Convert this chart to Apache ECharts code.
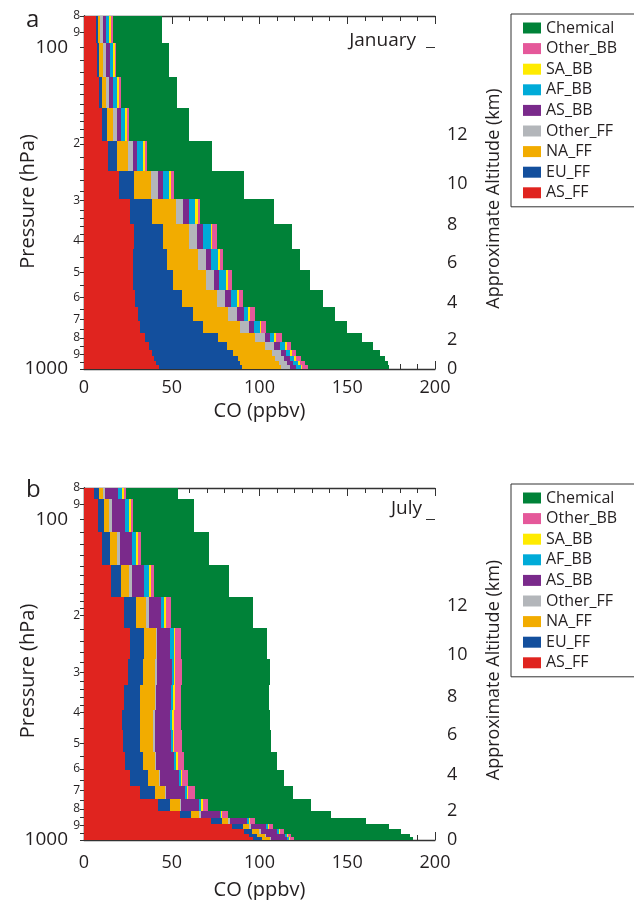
<!DOCTYPE html>
<html>
<head>
<meta charset="utf-8">
<script src="https://cdn.jsdelivr.net/npm/echarts@6/dist/echarts.min.js"></script>
<style>
  html, body { margin: 0; padding: 0; background: #fff; }
  #chart { width: 634px; height: 900px; }
</style>
</head>
<body>
<div id="chart"></div>
<script>
// source names, bottom of the stack first
var sources = ['AS_FF', 'EU_FF', 'NA_FF', 'Other_FF', 'AS_BB', 'AF_BB', 'SA_BB', 'Other_BB', 'Chemical'];
var colors = ['#e0241f', '#134f9d', '#f2ac00', '#b3b6ba', '#7a2a8b', '#00abd8', '#ffeb00', '#e5589a', '#008238'];

// January: layer edges (hPa) and contribution of each source per layer (ppbv), top layer first
var janEdges = [80, 97, 124, 155, 196, 243, 296, 354, 424, 493, 568, 642, 709, 773, 824, 873, 911, 944, 972, 1000];
var janAS_FF = [7.1, 7.6, 8.7, 10.1, 13.5, 20.0, 26.3, 28.6, 28.2, 28.2, 29.1, 30.7, 32.0, 34.9, 37.1, 38.7, 40.0, 41.1, 42.9];
var janEU_FF = [0.9, 1.1, 1.4, 3.0, 5.5, 8.6, 12.7, 16.2, 19.1, 22.3, 26.7, 31.4, 35.8, 41.3, 44.4, 46.3, 47.6, 47.6, 47.4];
var janNA_FF = [1.1, 2.1, 2.5, 3.6, 6.3, 9.7, 13.4, 15.3, 17.7, 19.1, 20.0, 20.0, 20.9, 21.0, 21.9, 21.9, 21.5, 22.3, 21.7];
var janOther_FF = [1.5, 1.7, 1.9, 2.3, 2.5, 3.8, 4.2, 4.4, 4.7, 4.7, 4.7, 5.1, 5.1, 5.9, 4.7, 5.1, 4.8, 4.8, 5.3];
var janAS_BB = [1.9, 2.3, 1.9, 1.9, 2.3, 2.9, 3.4, 3.4, 2.9, 2.9, 3.4, 3.8, 3.3, 2.9, 3.8, 2.9, 3.4, 3.4, 3.3];
var janAF_BB = [1.9, 1.9, 2.6, 2.5, 3.4, 3.6, 3.4, 4.2, 3.6, 3.8, 3.3, 2.5, 2.9, 2.3, 2.9, 2.5, 2.3, 2.6, 2.9];
var janSA_BB = [1.0, 0.8, 1.0, 1.0, 1.1, 1.1, 1.3, 1.1, 1.1, 1.1, 0.9, 1.3, 1.0, 1.0, 1.0, 1.0, 1.0, 1.0, 1.0];
var janOther_BB = [1.0, 0.8, 1.0, 1.3, 1.1, 1.5, 1.5, 2.3, 1.7, 2.1, 2.5, 2.9, 2.9, 3.4, 2.3, 2.3, 3.3, 2.9, 2.9];
var janChemical = [28.0, 30.3, 32.0, 34.3, 37.3, 40.2, 42.3, 42.9, 44.0, 44.4, 45.5, 45.1, 45.7, 45.5, 46.3, 48.0, 47.6, 47.3, 46.6];

// July
var julEdges = [80, 86.5, 109.6, 138.8, 174.5, 217.9, 271.9, 329.9, 394.5, 455, 532.8, 605.8, 679.6, 745.6, 812.6, 854.6, 892, 924.2, 958, 978.8, 1000];
var julAS_FF = [5.7, 7.8, 10.1, 15.4, 22.9, 26.3, 25.3, 23.0, 21.5, 22.1, 23.6, 26.3, 32.0, 41.9, 54.5, 72.6, 84.4, 91.0, 93.9, 96.4];
var julEU_FF = [2.9, 3.6, 4.7, 5.5, 6.9, 8.0, 8.6, 9.0, 10.5, 9.9, 9.9, 9.9, 8.6, 7.3, 6.7, 6.1, 6.3, 4.8, 4.8, 5.1];
var julNA_FF = [2.5, 3.0, 4.2, 4.9, 5.7, 6.7, 6.7, 8.2, 7.6, 7.6, 7.0, 6.3, 5.3, 5.3, 4.6, 3.4, 3.2, 3.8, 4.2, 4.3];
var julOther_FF = [1.0, 1.4, 1.5, 1.5, 1.7, 0.7, 1.0, 1.0, 1.0, 1.0, 0.6, 1.0, 1.0, 0.8, 1.0, 0.9, 1.0, 1.0, 1.0, 0.8];
var julAS_BB = [7.3, 7.6, 6.7, 6.9, 6.5, 7.4, 8.6, 8.4, 8.2, 9.0, 9.9, 10.9, 10.9, 10.5, 10.5, 10.0, 9.0, 9.5, 10.5, 9.1];
var julAF_BB = [2.3, 2.3, 2.5, 2.9, 2.1, 1.9, 0.9, 1.1, 1.5, 1.1, 1.4, 1.0, 1.0, 1.1, 1.0, 0.9, 1.1, 0.9, 1.0, 0.9];
var julSA_BB = [0.9, 1.0, 1.0, 1.0, 1.1, 1.1, 1.0, 0.9, 1.0, 0.7, 0.9, 0.6, 0.6, 0.7, 0.6, 0.6, 0.6, 0.6, 0.6, 0.6];
var julOther_BB = [1.4, 1.1, 1.7, 1.9, 2.7, 3.3, 3.8, 3.8, 4.2, 4.4, 3.8, 3.4, 3.6, 3.1, 2.9, 2.9, 2.3, 2.3, 1.9, 2.3];
var julChemical = [29.7, 35.0, 38.6, 42.9, 46.9, 49.1, 49.9, 49.9, 50.6, 50.9, 52.6, 54.3, 56.0, 58.5, 59.0, 63.3, 65.7, 66.7, 67.6, 68.2];

// axis ticks
var pressTicks = [80, 90, 100, 200, 300, 400, 500, 600, 700, 800, 900, 1000];
var pressLabels = ['8', '9', '100', '2', '3', '4', '5', '6', '7', '8', '9', '1000'];
var minorPress = [80, 90, 100, 110, 120, 130, 140, 150, 160, 170, 180, 190, 200, 220, 240, 260, 280, 300,
    320, 340, 360, 380, 400, 450, 500, 550, 600, 650, 700, 750, 800, 850, 900, 950, 1000];
var majorPress = [100, 1000];
var altKm = [0, 2, 4, 6, 8, 10, 12];
var altPress = [1000, 812, 625, 469, 357, 265, 187];

var panels = [
    { edges: janEdges, values: [janAS_FF, janEU_FF, janNA_FF, janOther_FF, janAS_BB, janAF_BB, janSA_BB, janOther_BB, janChemical] },
    { edges: julEdges, values: [julAS_FF, julEU_FF, julNA_FF, julOther_FF, julAS_BB, julAF_BB, julSA_BB, julOther_BB, julChemical] }
];

var textColor = '#231f20';
var lineColor = '#333';
var font = 'Open Sans';
var lg = function (v) { return Math.log10(v); };

function findIndex(list, v) {
    for (var i = 0; i < list.length; i++) {
        if (Math.abs(lg(list[i]) - v) < 1e-6) return i;
    }
    return -1;
}

function renderBox(params, api) {
    var a = api.coord([api.value(0), api.value(2)]);
    var b = api.coord([api.value(1), api.value(3)]);
    var x0 = Math.round(a[0]), x1 = Math.round(b[0]);
    var y0 = Math.round(a[1]), y1 = Math.round(b[1]);
    return {
        type: 'rect',
        shape: { x: x0, y: y0, width: x1 - x0, height: y1 - y0 },
        style: { fill: api.visual('color') }
    };
}

var grids = [
    { left: 84, top: 16, width: 351, height: 353, outerBoundsMode: 'none' },
    { left: 84, top: 488, width: 351, height: 352, outerBoundsMode: 'none' }
];

var xAxes = [], yAxes = [], series = [], legends = [];
var legendOrder = sources.slice().reverse();

panels.forEach(function (panel, k) {
    xAxes.push({
        gridIndex: k, type: 'value', min: 0, max: 200, interval: 50, position: 'bottom',
        name: 'CO (ppbv)', nameLocation: 'middle', nameGap: k === 0 ? 32 : 40, nameMoveOverlap: false,
        nameTextStyle: { fontFamily: font, fontSize: 20, color: textColor },
        axisLine: { lineStyle: { color: lineColor, width: 1.3 } },
        axisTick: { inside: true, length: 8, lineStyle: { color: lineColor } },
        minorTick: { show: true, splitNumber: 5, length: 5, lineStyle: { color: lineColor } },
        axisLabel: { fontFamily: font, fontSize: 18, color: textColor, margin: k === 0 ? 10 : 14 },
        splitLine: { show: false }
    });
    xAxes.push({
        gridIndex: k, type: 'value', min: 0, max: 200, interval: 50, position: 'top',
        axisLine: { lineStyle: { color: lineColor, width: 1.3 } },
        axisTick: { inside: true, length: 8, lineStyle: { color: lineColor } },
        minorTick: { show: true, splitNumber: 5, length: 5, lineStyle: { color: lineColor } },
        axisLabel: { show: false },
        splitLine: { show: false }
    });

    var yBase = { gridIndex: k, type: 'value', min: lg(80), max: 3, inverse: true, splitLine: { show: false } };
    yAxes.push(Object.assign({}, yBase, {
        position: 'left',
        name: 'Pressure (hPa)', nameLocation: 'middle', nameRotate: 90, nameGap: 46, nameMoveOverlap: false,
        nameTextStyle: { fontFamily: font, fontSize: 20, color: textColor, padding: [0, k === 0 ? 18 : 14, 0, 0] },
        axisLine: { lineStyle: { color: lineColor, width: 1.3 } },
        axisTick: { inside: true, length: 4, customValues: minorPress.map(lg), lineStyle: { color: lineColor } },
        axisLabel: {
            customValues: pressTicks.map(lg), fontFamily: font, fontSize: 12, color: textColor, margin: 4,
            formatter: function (v) {
                var t = pressLabels[findIndex(pressTicks, v)];
                return t.length > 1 ? '{big|' + t + '}' : t;
            },
            rich: { big: { fontFamily: font, fontSize: 19, color: textColor, padding: [0, 12, 0, 0] } }
        }
    }));
    yAxes.push(Object.assign({}, yBase, {
        position: 'right',
        name: 'Approximate Altitude (km)', nameLocation: 'middle', nameRotate: 90, nameGap: 50, nameMoveOverlap: false,
        nameTextStyle: { fontFamily: font, fontSize: 18, color: textColor, padding: [0, 12, 0, 0] },
        axisLine: { lineStyle: { color: lineColor, width: 1.3 } },
        axisTick: { inside: true, length: 4, customValues: minorPress.map(lg), lineStyle: { color: lineColor } },
        axisLabel: {
            customValues: altPress.map(lg), fontFamily: font, fontSize: 18, color: textColor, margin: 12,
            formatter: function (v) { return String(altKm[findIndex(altPress, v)]); }
        }
    }));
    ['left', 'right'].forEach(function (pos) {
        yAxes.push(Object.assign({}, yBase, {
            position: pos,
            axisLine: { show: false },
            axisTick: { inside: true, length: 9, customValues: majorPress.map(lg), lineStyle: { color: lineColor } },
            axisLabel: { show: false }
        }));
    });

    var edges = panel.edges;
    var cum = edges.slice(1).map(function () { return 0; });
    sources.forEach(function (name, j) {
        var vals = panel.values[j];
        var data = vals.map(function (v, i) {
            var start = cum[i];
            cum[i] += v;
            return [start, cum[i], lg(edges[i]), lg(edges[i + 1])];
        });
        series.push({
            type: 'custom', name: name, xAxisIndex: k * 2, yAxisIndex: k * 4,
            renderItem: renderBox, encode: { x: [0, 1], y: [2, 3] },
            itemStyle: { color: colors[j] }, data: data
        });
    });

    legends.push({
        left: 511, top: k === 0 ? 14 : 484, orient: 'vertical', icon: 'rect',
        itemWidth: 18, itemHeight: 11, itemGap: 4.6,
        padding: [6, 60, 6, 12], borderColor: lineColor, borderWidth: 1,
        textStyle: { fontFamily: font, fontSize: 16, color: textColor },
        data: legendOrder
    });
});

var chart = echarts.init(document.getElementById('chart'));
chart.setOption({
    animation: false,
    backgroundColor: '#fff',
    grid: grids,
    xAxis: xAxes,
    yAxis: yAxes,
    legend: legends,
    series: series,
    graphic: [
        { type: 'text', left: 26, top: 8, style: { text: 'a', fontFamily: font, fontSize: 24, fill: textColor } },
        { type: 'text', left: 26, top: 478, style: { text: 'b', fontFamily: font, fontSize: 24, fill: textColor } },
        { type: 'text', right: 218, top: 31, style: { text: 'January', fontFamily: font, fontSize: 19, fill: textColor } },
        { type: 'text', right: 212, top: 499, style: { text: 'July', fontFamily: font, fontSize: 19, fill: textColor } }
    ]
});
</script>
</body>
</html>
